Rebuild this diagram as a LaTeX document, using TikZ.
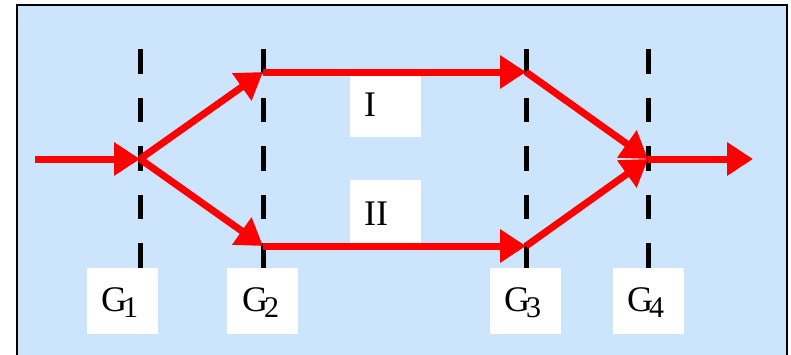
\documentclass[tikz,border=0pt]{standalone}
\usepackage{fontspec}
\setmainfont{Liberation Serif}
\usetikzlibrary{arrows.meta}
\definecolor{bgblue}{RGB}{204,229,252}
\definecolor{rayred}{RGB}{255,0,0}
\newcommand{\gsub}[1]{G\kern-4pt\raisebox{-6pt}{\fontsize{30}{30}\selectfont #1}}
\begin{document}
\begin{tikzpicture}[x=1pt,y=-1pt,
  gate/.style={line width=5pt, dash pattern=on 24.5pt off 24pt},
  ray/.style={rayred, line width=7pt},
  tipped/.style={-{Triangle[length=26pt,width=32pt]}},
  labelbox/.style={fill=white, draw=none, minimum width=71pt, minimum height=66pt, inner sep=0pt},
  romanbox/.style={fill=white, draw=none, minimum width=71pt, inner sep=0pt},
  txt/.style={font=\fontsize{36}{36}\selectfont, inner sep=0pt, anchor=base west}]
\useasboundingbox (0,0) rectangle (791,354);
\clip (0,0) rectangle (791,354);
\fill[white] (0,0) rectangle (791,354);
\draw[line width=2pt, fill=bgblue] (17,5) rectangle (787,380);

% points
\coordinate (t1) at (140,49);
\coordinate (t2) at (263,49);
\coordinate (t3) at (526,49);
\coordinate (t4) at (648,49);
\coordinate (in) at (35,159);
\coordinate (j1) at (140,159);
\coordinate (a2) at (263,72);
\coordinate (b2) at (263,246);
\coordinate (a3) at (526,72);
\coordinate (b3) at (526,246);
\coordinate (j4) at (648,159);
\coordinate (out) at (753,159);

% label boxes
\node[labelbox] (g1box) at (122.5,301) {};
\node[labelbox] (g2box) at (262.5,301) {};
\node[labelbox] (g3box) at (525.5,301) {};
\node[labelbox] (g4box) at (648.5,301) {};
\node[romanbox, minimum height=61pt] (Ibox) at (385.5,106.5) {};
\node[romanbox, minimum height=63pt] (IIbox) at (385.5,211.5) {};

% gratings
\draw[gate] (t1) -- (t1 |- g1box.north);
\draw[gate] (t2) -- (t2 |- g2box.north);
\draw[gate] (t3) -- (t3 |- g3box.north);
\draw[gate] (t4) -- (t4 |- g4box.north);

% texts
\node[txt] (g1) at (101,311) {\gsub{1}};
\node[txt] (g2) at (242,311) {\gsub{2}};
\node[txt] (g3) at (504,311) {\gsub{3}};
\node[txt] (g4) at (627,311) {\gsub{4}};
\node[txt] (lI) at (364,116) {I};
\node[txt] (lII) at (364,225) {II};

% rays
\draw[ray,tipped] (in) -- (j1);
\draw[ray,tipped] (j1) -- (a2);
\draw[ray,tipped] (j1) -- (b2);
\draw[ray,tipped] (a2) -- (a3);
\draw[ray,tipped] (b2) -- (b3);
\draw[ray,tipped] (a3) -- (j4);
\draw[ray,tipped] (b3) -- (j4);
\draw[ray,tipped] (j4) -- (out);
\end{tikzpicture}
\end{document}
